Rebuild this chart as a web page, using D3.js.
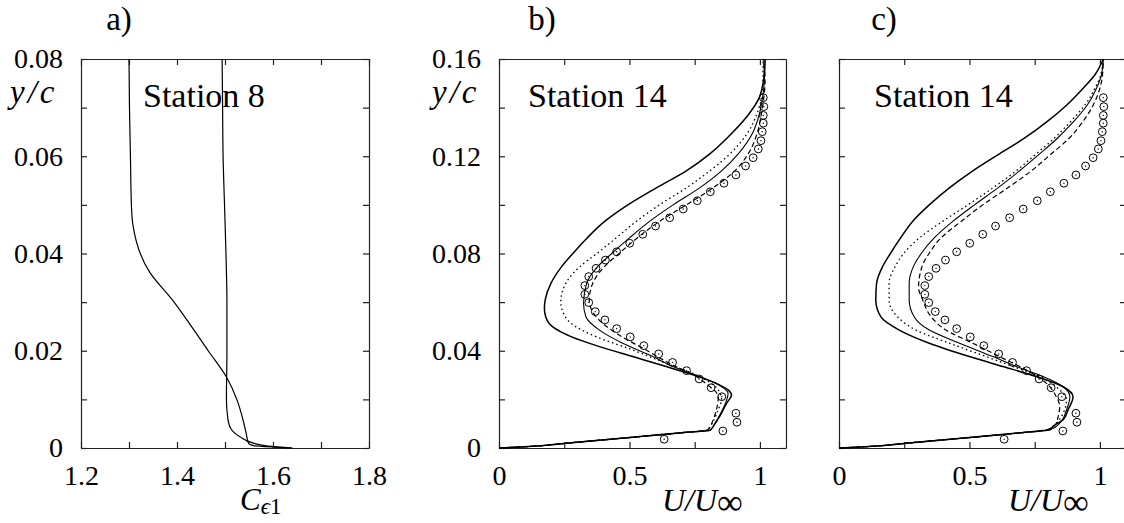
<!DOCTYPE html>
<html>
<head>
<meta charset="utf-8">
<script src="https://cdn.jsdelivr.net/npm/d3@7"></script>
<style>
  body { margin: 0; background: #fff; }
  text, tspan { font-family: 'Liberation Serif' !important; }
</style>
</head>
<body>
<div id="chart"></div>
<script>
// ---- data: points are [x value, y/c] ----

// panel a) Station 8, C_eps1 profiles
const stationEightLow = [[1.640,0],[1.600,0.0002],[1.560,0.0005],[1.549,0.001],[1.544,0.0031],[1.537,0.006],[1.525,0.0099],[1.503,0.0146],[1.465,0.02],[1.43,0.025],[1.39,0.0305],[1.344,0.036],[1.308,0.046],[1.305,0.05],[1.303,0.06],[1.301,0.07],[1.300,0.08]];
const stationEightHigh = [[1.640,0],[1.590,0.0004],[1.559,0.001],[1.531,0.0023],[1.512,0.004],[1.506,0.006],[1.503,0.01],[1.504,0.02],[1.504,0.03],[1.502,0.04],[1.499,0.05],[1.496,0.06],[1.495,0.07],[1.494,0.08]];

// experiment, station 14 (same in b and c)
const experiment = [[1.013,0.1441],[1.015,0.1404],[1.013,0.1368],[1.013,0.1336],[1.009,0.1301],[1.004,0.1264],[0.994,0.1230],[0.974,0.1194],[0.945,0.1160],[0.908,0.1123],[0.862,0.1089],[0.810,0.1054],[0.760,0.1017],[0.706,0.0983],[0.654,0.0947],[0.600,0.0913],[0.551,0.0879],[0.501,0.0842],[0.451,0.0807],[0.408,0.0773],[0.372,0.0739],[0.344,0.0705],[0.329,0.0668],[0.329,0.0632],[0.344,0.0598],[0.369,0.0561],[0.406,0.0527],[0.451,0.0491],[0.503,0.0457],[0.555,0.0421],[0.612,0.0387],[0.665,0.0352],[0.719,0.0318],[0.767,0.0284],[0.813,0.0248],[0.854,0.0211],[0.908,0.0143],[0.912,0.0106],[0.858,0.0070],[0.633,0.0036]];

// panel b) U/Uinf
const bSolidThick = [[0,0],[0.08,0.0004],[0.3,0.0024],[0.5,0.0043],[0.7,0.0063],[0.81,0.0074],[0.821,0.0089],[0.846,0.013],[0.872,0.0184],[0.891,0.0218],[0.878,0.0239],[0.833,0.0266],[0.763,0.0294],[0.641,0.0335],[0.513,0.0376],[0.385,0.0417],[0.276,0.0458],[0.205,0.0499],[0.179,0.054],[0.174,0.0575],[0.177,0.0609],[0.199,0.0677],[0.240,0.0746],[0.283,0.080],[0.338,0.0864],[0.405,0.0932],[0.494,0.100],[0.603,0.107],[0.718,0.114],[0.808,0.121],[0.897,0.130],[0.955,0.137],[0.997,0.144],[1.012,0.150],[1.018,0.155],[1.02,0.16]];
const bDotted = [[0,0],[0.08,0.0004],[0.3,0.0024],[0.5,0.0043],[0.7,0.0063],[0.80,0.0075],[0.81,0.009],[0.84,0.0157],[0.853,0.020],[0.84,0.0239],[0.769,0.0294],[0.641,0.0348],[0.513,0.0403],[0.372,0.0458],[0.276,0.0513],[0.245,0.056],[0.237,0.0601],[0.256,0.0677],[0.31,0.0746],[0.375,0.080],[0.449,0.0864],[0.526,0.0932],[0.615,0.100],[0.718,0.107],[0.808,0.114],[0.885,0.121],[0.955,0.130],[0.987,0.137],[1.006,0.144],[1.012,0.152],[1.012,0.16]];
const bSolidThin = [[0,0],[0.08,0.0004],[0.3,0.0024],[0.5,0.0043],[0.7,0.0062],[0.81,0.0074],[0.83,0.0106],[0.85,0.0143],[0.868,0.0184],[0.878,0.0225],[0.853,0.0252],[0.769,0.0294],[0.667,0.0335],[0.59,0.0376],[0.474,0.0431],[0.385,0.0485],[0.333,0.054],[0.324,0.0595],[0.336,0.0677],[0.378,0.0746],[0.432,0.080],[0.5,0.0864],[0.577,0.0932],[0.667,0.100],[0.769,0.107],[0.853,0.114],[0.917,0.121],[0.974,0.130],[0.997,0.137],[1.01,0.144],[1.017,0.152],[1.015,0.16]];
const bDashed = [[0,0],[0.08,0.0004],[0.3,0.0024],[0.5,0.0043],[0.7,0.0063],[0.80,0.0075],[0.821,0.0116],[0.833,0.0157],[0.84,0.0198],[0.835,0.0225],[0.808,0.0252],[0.756,0.0294],[0.654,0.0348],[0.564,0.0403],[0.449,0.0472],[0.372,0.054],[0.346,0.0609],[0.359,0.0677],[0.404,0.0746],[0.46,0.080],[0.53,0.0864],[0.615,0.0932],[0.718,0.100],[0.82,0.107],[0.904,0.114],[0.955,0.121],[0.991,0.130],[1.005,0.137],[1.015,0.144],[1.02,0.152],[1.012,0.16]];

// panel c) U/Uinf
const cSolidThick = [[0,0],[0.08,0.0004],[0.3,0.0024],[0.5,0.0043],[0.7,0.0063],[0.81,0.0076],[0.82,0.0089],[0.859,0.0116],[0.878,0.0157],[0.897,0.0211],[0.859,0.0252],[0.756,0.0294],[0.628,0.0335],[0.5,0.0376],[0.346,0.0431],[0.231,0.0485],[0.16,0.054],[0.141,0.0609],[0.144,0.0677],[0.167,0.0746],[0.197,0.080],[0.236,0.0864],[0.282,0.0932],[0.346,0.100],[0.423,0.107],[0.513,0.114],[0.615,0.121],[0.705,0.127],[0.795,0.134],[0.872,0.141],[0.936,0.148],[0.981,0.1535],[1.013,0.16]];
const cDotted = [[0,0],[0.08,0.0004],[0.3,0.0024],[0.5,0.0043],[0.7,0.0063],[0.80,0.0076],[0.833,0.0102],[0.859,0.0143],[0.872,0.0198],[0.846,0.0239],[0.769,0.0294],[0.667,0.0335],[0.564,0.0376],[0.423,0.0431],[0.295,0.0485],[0.224,0.054],[0.192,0.0609],[0.192,0.0677],[0.215,0.0746],[0.248,0.080],[0.308,0.0864],[0.397,0.0932],[0.494,0.100],[0.59,0.107],[0.679,0.114],[0.756,0.121],[0.821,0.127],[0.885,0.134],[0.942,0.141],[0.981,0.148],[1.003,0.1535],[1.013,0.16]];
const cSolidThin = [[0,0],[0.08,0.0004],[0.3,0.0024],[0.5,0.0043],[0.7,0.0063],[0.81,0.0076],[0.846,0.0102],[0.872,0.0157],[0.885,0.0211],[0.859,0.0252],[0.782,0.0294],[0.679,0.0335],[0.59,0.0376],[0.462,0.0431],[0.346,0.0485],[0.288,0.054],[0.269,0.0609],[0.269,0.0677],[0.285,0.0746],[0.315,0.080],[0.365,0.0864],[0.436,0.0932],[0.519,0.100],[0.609,0.107],[0.692,0.114],[0.769,0.121],[0.833,0.127],[0.897,0.134],[0.951,0.141],[0.987,0.148],[1.006,0.1535],[1.013,0.16]];
const cDashed = [[0,0],[0.08,0.0004],[0.3,0.0024],[0.5,0.0043],[0.7,0.0063],[0.80,0.0076],[0.833,0.0102],[0.84,0.0129],[0.846,0.017],[0.833,0.0211],[0.795,0.0266],[0.718,0.0321],[0.615,0.0376],[0.513,0.0431],[0.41,0.0485],[0.353,0.054],[0.321,0.0609],[0.305,0.066],[0.318,0.0746],[0.345,0.080],[0.391,0.0864],[0.468,0.0932],[0.551,0.100],[0.647,0.107],[0.737,0.114],[0.814,0.121],[0.878,0.127],[0.933,0.134],[0.974,0.141],[1.0,0.148],[1.01,0.1535],[1.013,0.16]];

// ticks
const aXTicks = [1.2, 1.3, 1.4, 1.5, 1.6, 1.7, 1.8];
const aXLabels = [1.2, 1.4, 1.6, 1.8];
const aYTicks = [0, 0.01, 0.02, 0.03, 0.04, 0.05, 0.06, 0.07, 0.08];
const aYLabels = [0, 0.02, 0.04, 0.06, 0.08];
const uTicks = [0, 0.25, 0.5, 0.75, 1];
const uLabels = [0, 0.5, 1];
const bYTicks = [0, 0.02, 0.04, 0.06, 0.08, 0.1, 0.12, 0.14, 0.16];
const bYLabels = [0, 0.04, 0.08, 0.12, 0.16];

const width = 1124, height = 523;
const yTop = 59, yBottom = 448;

const svg = d3.select("#chart").append("svg")
    .attr("width", width)
    .attr("height", height);

const yA = d3.scaleLinear().domain([0, 0.08]).range([yBottom, yTop]);
const yB = d3.scaleLinear().domain([0, 0.16]).range([yBottom, yTop]);
const xA = d3.scaleLinear().domain([1.2, 1.8]).range([81, 369]);
const xB = d3.scaleLinear().domain([0, 1.1]).range([499, 786]);
const xC = d3.scaleLinear().domain([0, 1.1]).range([839, 1126]);

const styleAxis = (g) => {
    g.attr("font-family", null).attr("font-size", 28);
    g.selectAll("path, line").attr("stroke", "#222").attr("stroke-width", 1.2);
    g.selectAll("text").attr("fill", "#000");
}

const drawFrame = (x, y, xTicks, xLabels, yTicks, yLabels) => {
    const fmt = labels => d => labels.includes(d) ? String(d) : "";
    const [x0, x1] = x.range();
    const [y0, y1] = y.range();
    svg.append("g").attr("transform", `translate(0,${y0})`)
        .call(d3.axisBottom(x).tickValues(xTicks).tickFormat(fmt(xLabels)).tickSizeInner(-6).tickSizeOuter(0).tickPadding(17))
        .call(styleAxis);
    svg.append("g").attr("transform", `translate(0,${y1})`)
        .call(d3.axisTop(x).tickValues(xTicks).tickFormat(() => "").tickSizeInner(-6).tickSizeOuter(0))
        .call(styleAxis);
    svg.append("g").attr("transform", `translate(${x0},0)`)
        .call(d3.axisLeft(y).tickValues(yTicks).tickFormat(fmt(yLabels)).tickSizeInner(-6).tickSizeOuter(0).tickPadding(18))
        .call(styleAxis);
    svg.append("g").attr("transform", `translate(${x1},0)`)
        .call(d3.axisRight(y).tickValues(yTicks).tickFormat(() => "").tickSizeInner(-6).tickSizeOuter(0))
        .call(styleAxis);
}

const drawProfile = (data, x, y, width, dash) => {
    const line = d3.line()
        .x(d => x(d[0]))
        .y(d => y(d[1]))
        .curve(d3.curveMonotoneY);
    svg.append("path")
        .datum(data)
        .attr("d", line)
        .attr("fill", "none")
        .attr("stroke", "#000")
        .attr("stroke-width", width)
        .attr("stroke-dasharray", dash);
}

const drawExperiment = (x, y) => {
    const g = svg.append("g");
    g.selectAll("circle.ring")
        .data(experiment)
        .join("circle")
        .attr("class", "ring")
        .attr("cx", d => x(d[0]))
        .attr("cy", d => y(d[1]))
        .attr("r", 3.9)
        .attr("fill", "none")
        .attr("stroke", "#000")
        .attr("stroke-width", 1);
    g.selectAll("circle.dot")
        .data(experiment)
        .join("circle")
        .attr("class", "dot")
        .attr("cx", d => x(d[0]))
        .attr("cy", d => y(d[1]))
        .attr("r", 0.7)
        .attr("fill", "#000");
}

const label = (x, y, text, size, anchor) => svg.append("text")
    .attr("x", x).attr("y", y)
    .attr("font-size", size)
    .attr("text-anchor", anchor || "start")
    .text(text);

// y/c drawn as separate glyphs so the italic keeps its width
const yOverC = (x) => {
    const t = svg.append("text")
        .attr("x", x).attr("y", 103)
        .attr("font-size", 33)
        .attr("font-style", "italic");
    t.append("tspan").text("y");
    t.append("tspan").attr("dx", 3).text("/");
    t.append("tspan").attr("dx", 3).text("c");
}

const uLabel = (x) => {
    const t = svg.append("text")
        .attr("x", x).attr("y", 511)
        .attr("font-size", 32)
        .attr("font-style", "italic");
    t.append("tspan").text("U/U");
    t.append("tspan").attr("dy", 3).attr("font-size", 36).attr("font-style", "normal").text("∞");
}

// panel a
drawFrame(xA, yA, aXTicks, aXLabels, aYTicks, aYLabels);
drawProfile(stationEightLow, xA, yA, 1.2, null);
drawProfile(stationEightHigh, xA, yA, 1.2, null);
label(119, 30, "a)", 33, "middle");
label(143, 107, "Station 8", 34);
yOverC(10);
const cLabel = svg.append("text").attr("x", 240).attr("y", 510).attr("font-size", 31);
cLabel.append("tspan").attr("font-style", "italic").text("C");
cLabel.append("tspan").attr("dy", 4).attr("font-size", 23).attr("font-style", "italic").text("ϵ");
cLabel.append("tspan").attr("font-size", 23).text("1");

// panel b
drawFrame(xB, yB, uTicks, uLabels, bYTicks, bYLabels);
drawProfile(bSolidThick, xB, yB, 1.5, null);
drawProfile(bDotted, xB, yB, 1.3, "1.5,3");
drawProfile(bSolidThin, xB, yB, 1.1, null);
drawProfile(bDashed, xB, yB, 1.2, "5,3");
drawExperiment(xB, yB);
label(542, 30, "b)", 33, "middle");
label(528, 107, "Station 14", 34);
yOverC(432);
uLabel(662);

// panel c
drawFrame(xC, yB, uTicks, uLabels, bYTicks, []);
drawProfile(cSolidThick, xC, yB, 1.5, null);
drawProfile(cDotted, xC, yB, 1.3, "1.5,3");
drawProfile(cSolidThin, xC, yB, 1.1, null);
drawProfile(cDashed, xC, yB, 1.2, "5,3");
drawExperiment(xC, yB);
label(884, 30, "c)", 33, "middle");
label(874, 107, "Station 14", 34);
uLabel(1008);

svg.selectAll("text").style("font-family", "'Liberation Serif'");
</script>
</body>
</html>
